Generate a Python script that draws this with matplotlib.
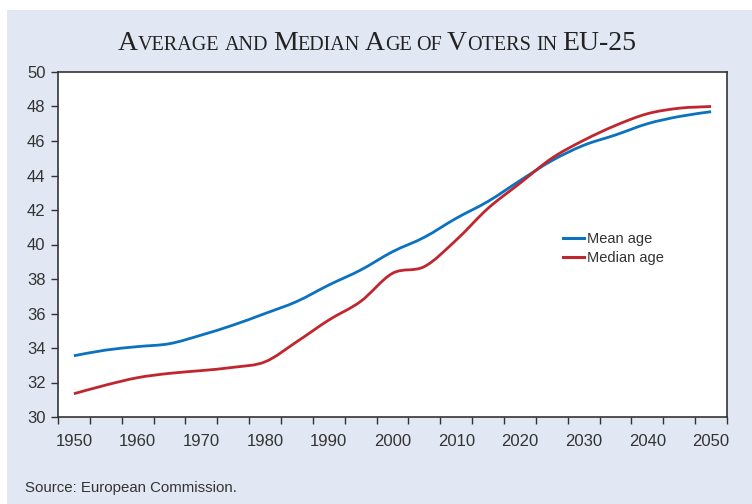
import matplotlib
matplotlib.use('Agg')
import numpy as np
import matplotlib.pyplot as plt
from matplotlib.path import Path
from matplotlib.patches import PathPatch, Rectangle
from matplotlib.lines import Line2D

# ages of voters, EU-25, every five years
years = list(range(1950, 2051, 5))
mean_age = [33.55, 33.88, 34.08, 34.25, 34.75, 35.33, 36.0, 36.7, 37.65, 38.52,
            39.58, 40.42, 41.52, 42.5, 43.7, 44.86, 45.75, 46.35, 47.0, 47.42, 47.7]
median_age = [31.35, 31.85, 32.28, 32.53, 32.69, 32.88, 33.2, 34.37, 35.62, 36.7,
              38.33, 38.72, 40.26, 42.1, 43.55, 45.0, 46.04, 46.9, 47.58, 47.9, 48.0]

BLUE = '#0A72BE'
RED = '#C0262E'
PANEL = '#E1E8F3'
TEXT = '#333333'


def smooth_path(x, y):
    # cubic bezier through the points (Catmull-Rom style control points)
    pts = np.column_stack([x, y]).astype(float)
    ext = np.vstack([pts[0], pts, pts[-1]])
    verts = [pts[0]]
    codes = [Path.MOVETO]
    for i in range(len(pts) - 1):
        p0, p1, p2, p3 = ext[i], ext[i + 1], ext[i + 2], ext[i + 3]
        verts += [p1 + (p2 - p0) / 6.0, p2 - (p3 - p1) / 6.0, p2]
        codes += [Path.CURVE4] * 3
    return Path(verts, codes)


fig = plt.figure(figsize=(7.52, 5.04), dpi=100, facecolor='white')
fig.patches.append(Rectangle((7 / 752, 0), 1, (504 - 10) / 504, transform=fig.transFigure,
                             facecolor=PANEL, edgecolor='none', zorder=-10))

ax = fig.add_axes([58 / 752, (504 - 417) / 504, 669 / 752, 345 / 504])
ax.set_facecolor('white')

for vals, col in [(mean_age, BLUE), (median_age, RED)]:
    ax.add_patch(PathPatch(smooth_path(years, vals), facecolor='none', edgecolor=col,
                           lw=2.0, capstyle='butt', zorder=3))

ax.set_xlim(1947.5, 2052.5)
ax.set_ylim(30, 50)
ax.set_yticks(np.arange(30, 51, 2))
ax.set_xticks(np.arange(1950, 2051, 10))
ax.set_xticks(np.arange(1947.5, 2053, 5), minor=True)
ax.tick_params(axis='x', which='major', length=0, pad=12.5, labelsize=12, labelcolor=TEXT)
ax.tick_params(axis='x', which='minor', length=5, width=1, color=TEXT, direction='out')
ax.tick_params(axis='y', which='major', length=5, width=1, color=TEXT, pad=4,
               labelsize=12, labelcolor=TEXT)
for t in ax.get_xticklabels() + ax.get_yticklabels():
    t.set_fontfamily('Liberation Sans')
for s in ax.spines.values():
    s.set_color(TEXT)
    s.set_linewidth(1.2)

handles = [Line2D([], [], color=BLUE, lw=2.2), Line2D([], [], color=RED, lw=2.2)]
ax.legend(handles, ['Mean age', 'Median age'], loc='upper left', bbox_to_anchor=(0.7544, 0.536),
          frameon=False, borderpad=0, borderaxespad=0, handlelength=1.45, handletextpad=0.2,
          labelspacing=0.36, prop={'family': 'Liberation Sans', 'size': 10.5}, labelcolor=TEXT)

# small caps title
parts = [('A', 1), ('VERAGE', 0), (' ', 0), ('AND', 0), (' ', 0), ('M', 1), ('EDIAN', 0), (' ', 0),
         ('A', 1), ('GE', 0), (' ', 0), ('OF', 0), (' ', 0), ('V', 1), ('OTERS', 0), (' ', 0),
         ('IN', 0), (' ', 0), ('EU-25', 1)]
big, small = 20, 14.5
renderer = fig.canvas.get_renderer()


def text_w(s, size):
    t = fig.text(0, 0, s, fontsize=size, family='Liberation Serif')
    w = t.get_window_extent(renderer).width
    t.remove()
    return w


space_w = text_w('x x', small) - text_w('xx', small)
widths = [space_w if s == ' ' else text_w(s, big if b else small) for s, b in parts]
x = (377 - sum(widths) / 2) / 752
for (s, b), w in zip(parts, widths):
    if s != ' ':
        fig.text(x, (504 - 50.5) / 504, s, fontsize=big if b else small, family='Liberation Serif',
                 color='#222222', va='baseline', ha='left')
    x += w / 752

fig.text(25 / 752, (504 - 488) / 504, 'Source: European Commission.', fontsize=10.8,
         family='Liberation Sans', color=TEXT, va='center')

fig.savefig('out.png', dpi=100)
